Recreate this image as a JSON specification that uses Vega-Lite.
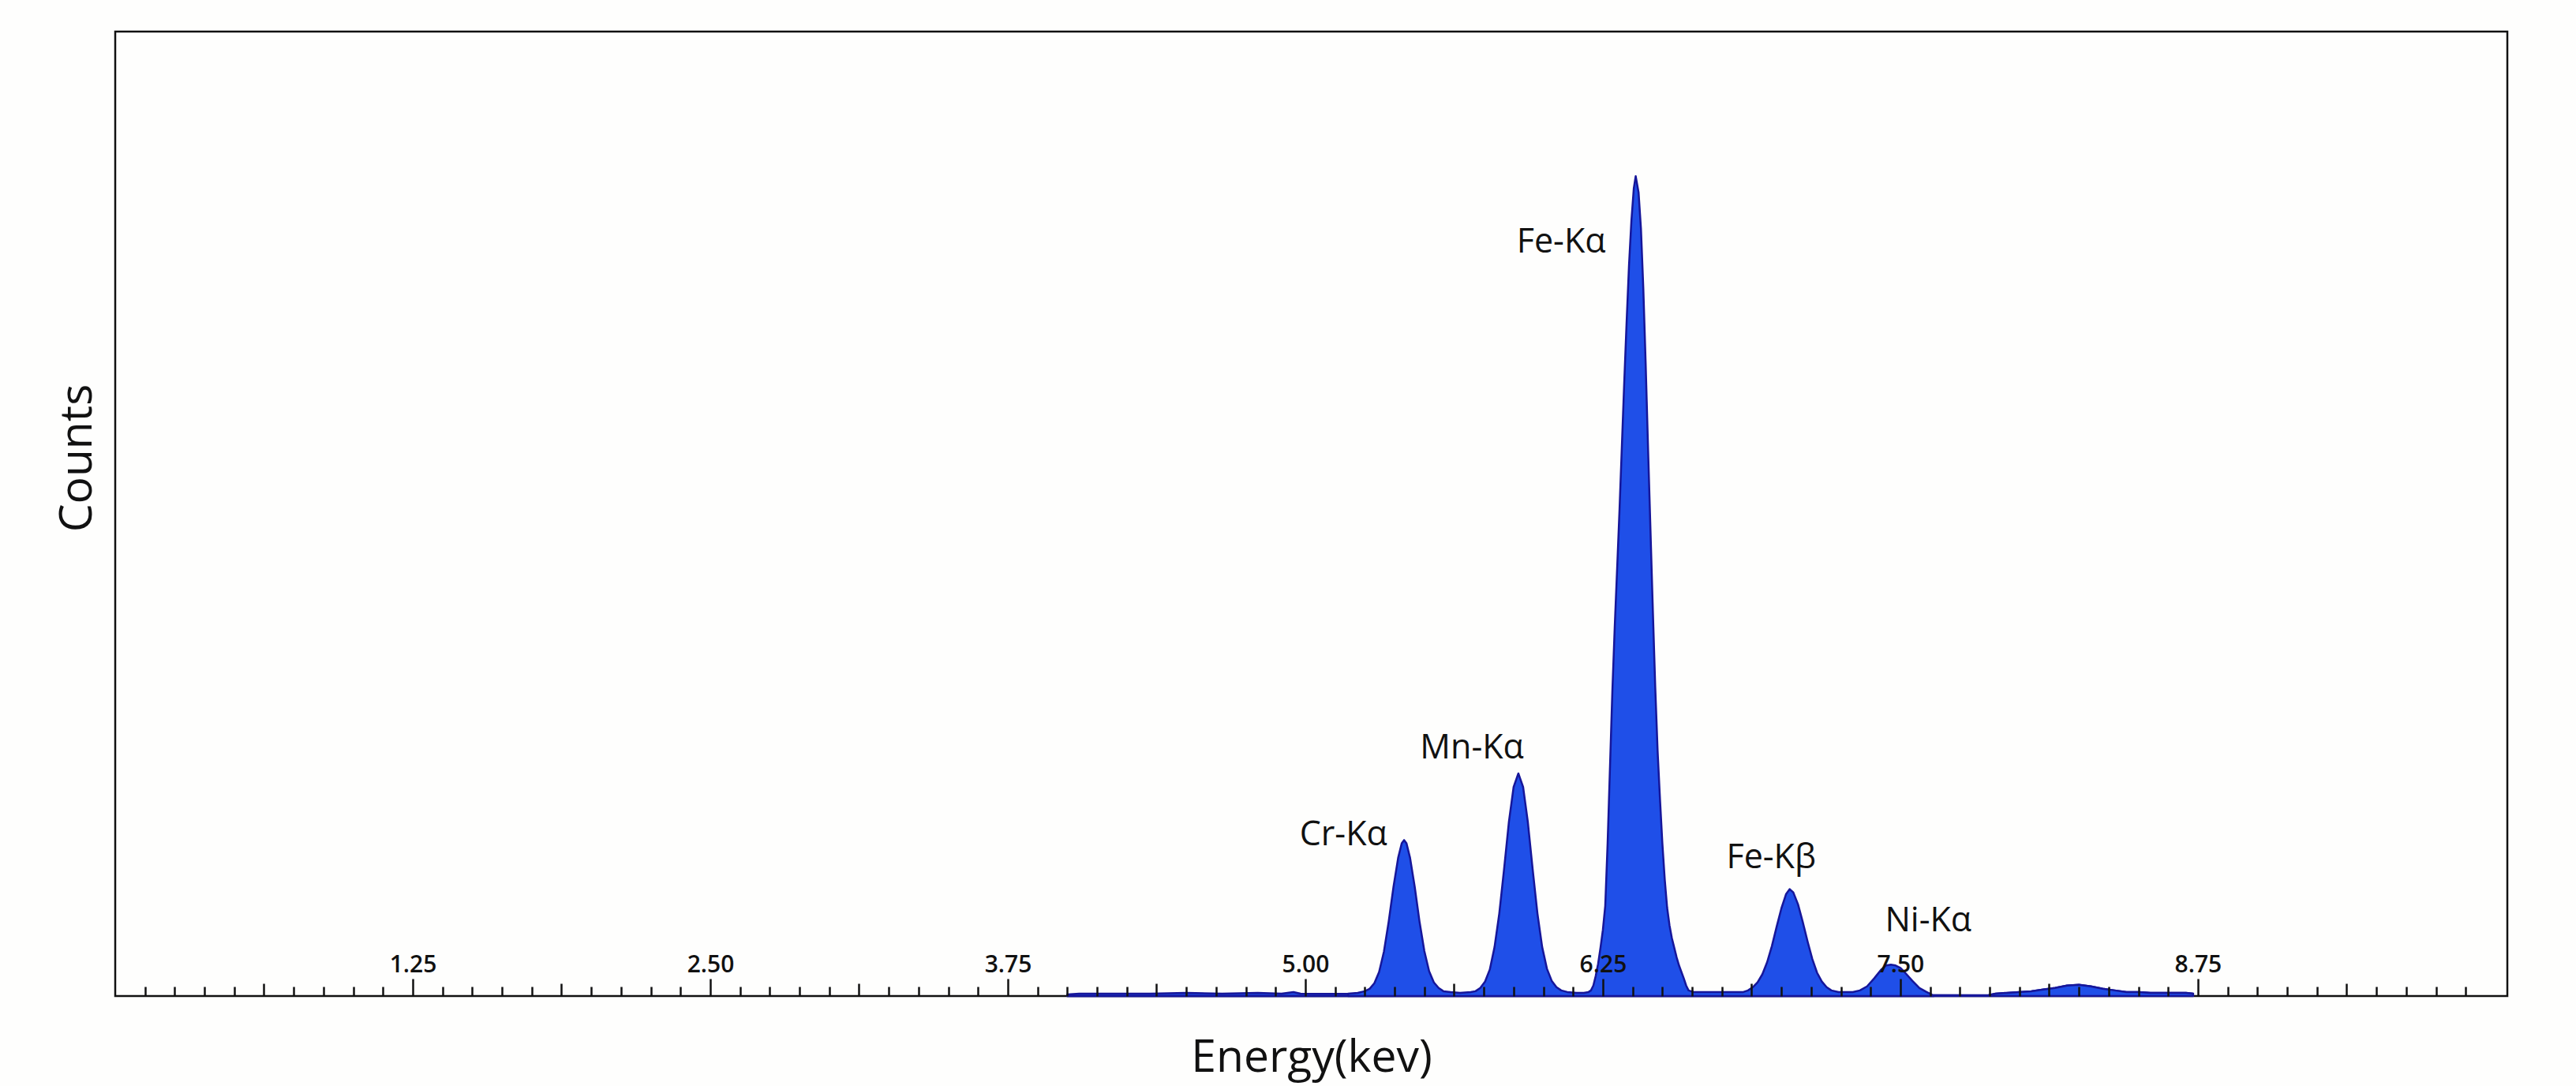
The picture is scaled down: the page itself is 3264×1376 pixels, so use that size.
{
  "$schema": "https://vega.github.io/schema/vega-lite/v6.json",
  "autosize": {"type": "none"},
  "width": 3031,
  "height": 1222,
  "padding": {"left": 146, "top": 40, "right": 87, "bottom": 114},
  "background": "#fefefd",
  "config": {
    "view": {"stroke": "#111111", "strokeWidth": 2.5},
    "font": "Open Sans",
    "axisX": {"offset": 0, "domain": false, "grid": false, "tickColor": "#111111", "tickWidth": 2.5},
    "axisY": {"title": "Counts", "labels": false, "ticks": false, "domain": false, "grid": false, "titleFont": "Open Sans", "titleFontSize": 57, "titleFontWeight": "normal", "titleColor": "#111111", "titleX": -48, "titleY": 540, "titleAngle": -90, "titleAlign": "center", "titleBaseline": "middle"}
  },
  "resolve": {"axis": {"x": "independent"}},
  "datasets": {
    "spectrum": [
      {"e": 4.00, "c": 2, "seg": "a"},
      {"e": 4.05, "c": 3, "seg": "a"},
      {"e": 4.20, "c": 3, "seg": "a"},
      {"e": 4.35, "c": 3, "seg": "a"},
      {"e": 4.50, "c": 4, "seg": "a"},
      {"e": 4.65, "c": 3, "seg": "a"},
      {"e": 4.80, "c": 4, "seg": "a"},
      {"e": 4.90, "c": 3, "seg": "a"},
      {"e": 4.95, "c": 5, "seg": "a"},
      {"e": 4.98, "c": 3, "seg": "a"},
      {"e": 5.18, "c": 3, "seg": "b"},
      {"e": 5.22, "c": 4, "seg": "b"},
      {"e": 5.25, "c": 6, "seg": "b"},
      {"e": 5.27, "c": 9, "seg": "b"},
      {"e": 5.29, "c": 16, "seg": "b"},
      {"e": 5.31, "c": 30, "seg": "b"},
      {"e": 5.33, "c": 55, "seg": "b"},
      {"e": 5.35, "c": 92, "seg": "b"},
      {"e": 5.37, "c": 135, "seg": "b"},
      {"e": 5.39, "c": 172, "seg": "b"},
      {"e": 5.405, "c": 190, "seg": "b"},
      {"e": 5.415, "c": 194, "seg": "b"},
      {"e": 5.425, "c": 190, "seg": "b"},
      {"e": 5.44, "c": 172, "seg": "b"},
      {"e": 5.46, "c": 135, "seg": "b"},
      {"e": 5.48, "c": 92, "seg": "b"},
      {"e": 5.50, "c": 56, "seg": "b"},
      {"e": 5.52, "c": 31, "seg": "b"},
      {"e": 5.54, "c": 17, "seg": "b"},
      {"e": 5.56, "c": 10, "seg": "b"},
      {"e": 5.58, "c": 6, "seg": "b"},
      {"e": 5.61, "c": 5, "seg": "b"},
      {"e": 5.65, "c": 4, "seg": "b"},
      {"e": 5.695, "c": 5, "seg": "b"},
      {"e": 5.715, "c": 6, "seg": "b"},
      {"e": 5.735, "c": 10, "seg": "b"},
      {"e": 5.755, "c": 18, "seg": "b"},
      {"e": 5.775, "c": 33, "seg": "b"},
      {"e": 5.795, "c": 61, "seg": "b"},
      {"e": 5.815, "c": 103, "seg": "b"},
      {"e": 5.835, "c": 158, "seg": "b"},
      {"e": 5.855, "c": 216, "seg": "b"},
      {"e": 5.875, "c": 260, "seg": "b"},
      {"e": 5.895, "c": 277, "seg": "b"},
      {"e": 5.915, "c": 260, "seg": "b"},
      {"e": 5.935, "c": 216, "seg": "b"},
      {"e": 5.955, "c": 158, "seg": "b"},
      {"e": 5.975, "c": 103, "seg": "b"},
      {"e": 5.995, "c": 61, "seg": "b"},
      {"e": 6.015, "c": 34, "seg": "b"},
      {"e": 6.035, "c": 19, "seg": "b"},
      {"e": 6.055, "c": 11, "seg": "b"},
      {"e": 6.075, "c": 7, "seg": "b"},
      {"e": 6.10, "c": 5, "seg": "b"},
      {"e": 6.14, "c": 4, "seg": "b"},
      {"e": 6.17, "c": 4, "seg": "b"},
      {"e": 6.19, "c": 5, "seg": "b"},
      {"e": 6.20, "c": 7, "seg": "b"},
      {"e": 6.21, "c": 13, "seg": "b"},
      {"e": 6.22, "c": 25, "seg": "b"},
      {"e": 6.23, "c": 40, "seg": "b"},
      {"e": 6.24, "c": 60, "seg": "b"},
      {"e": 6.25, "c": 82, "seg": "b"},
      {"e": 6.26, "c": 112, "seg": "b"},
      {"e": 6.27, "c": 190, "seg": "b"},
      {"e": 6.28, "c": 285, "seg": "b"},
      {"e": 6.29, "c": 380, "seg": "b"},
      {"e": 6.30, "c": 460, "seg": "b"},
      {"e": 6.31, "c": 532, "seg": "b"},
      {"e": 6.32, "c": 605, "seg": "b"},
      {"e": 6.33, "c": 685, "seg": "b"},
      {"e": 6.34, "c": 765, "seg": "b"},
      {"e": 6.35, "c": 840, "seg": "b"},
      {"e": 6.36, "c": 910, "seg": "b"},
      {"e": 6.37, "c": 965, "seg": "b"},
      {"e": 6.38, "c": 1005, "seg": "b"},
      {"e": 6.388, "c": 1020, "seg": "b"},
      {"e": 6.40, "c": 1000, "seg": "b"},
      {"e": 6.41, "c": 955, "seg": "b"},
      {"e": 6.42, "c": 880, "seg": "b"},
      {"e": 6.43, "c": 785, "seg": "b"},
      {"e": 6.44, "c": 680, "seg": "b"},
      {"e": 6.45, "c": 580, "seg": "b"},
      {"e": 6.46, "c": 480, "seg": "b"},
      {"e": 6.47, "c": 385, "seg": "b"},
      {"e": 6.48, "c": 305, "seg": "b"},
      {"e": 6.49, "c": 245, "seg": "b"},
      {"e": 6.50, "c": 190, "seg": "b"},
      {"e": 6.51, "c": 145, "seg": "b"},
      {"e": 6.52, "c": 110, "seg": "b"},
      {"e": 6.53, "c": 88, "seg": "b"},
      {"e": 6.54, "c": 72, "seg": "b"},
      {"e": 6.55, "c": 60, "seg": "b"},
      {"e": 6.56, "c": 48, "seg": "b"},
      {"e": 6.57, "c": 38, "seg": "b"},
      {"e": 6.58, "c": 30, "seg": "b"},
      {"e": 6.59, "c": 22, "seg": "b"},
      {"e": 6.60, "c": 13, "seg": "b"},
      {"e": 6.61, "c": 7, "seg": "b"},
      {"e": 6.63, "c": 5, "seg": "b"},
      {"e": 6.70, "c": 5, "seg": "b"},
      {"e": 6.75, "c": 5, "seg": "b"},
      {"e": 6.80, "c": 5, "seg": "b"},
      {"e": 6.84, "c": 5, "seg": "b"},
      {"e": 6.86, "c": 7, "seg": "b"},
      {"e": 6.88, "c": 11, "seg": "b"},
      {"e": 6.90, "c": 17, "seg": "b"},
      {"e": 6.92, "c": 27, "seg": "b"},
      {"e": 6.94, "c": 42, "seg": "b"},
      {"e": 6.96, "c": 62, "seg": "b"},
      {"e": 6.98, "c": 86, "seg": "b"},
      {"e": 7.00, "c": 109, "seg": "b"},
      {"e": 7.02, "c": 127, "seg": "b"},
      {"e": 7.035, "c": 133, "seg": "b"},
      {"e": 7.05, "c": 129, "seg": "b"},
      {"e": 7.07, "c": 114, "seg": "b"},
      {"e": 7.09, "c": 92, "seg": "b"},
      {"e": 7.11, "c": 68, "seg": "b"},
      {"e": 7.13, "c": 46, "seg": "b"},
      {"e": 7.15, "c": 29, "seg": "b"},
      {"e": 7.17, "c": 18, "seg": "b"},
      {"e": 7.19, "c": 11, "seg": "b"},
      {"e": 7.21, "c": 7, "seg": "b"},
      {"e": 7.24, "c": 5, "seg": "b"},
      {"e": 7.27, "c": 5, "seg": "b"},
      {"e": 7.30, "c": 5, "seg": "b"},
      {"e": 7.33, "c": 7, "seg": "b"},
      {"e": 7.36, "c": 12, "seg": "b"},
      {"e": 7.39, "c": 22, "seg": "b"},
      {"e": 7.42, "c": 33, "seg": "b"},
      {"e": 7.44, "c": 38, "seg": "b"},
      {"e": 7.46, "c": 39, "seg": "b"},
      {"e": 7.48, "c": 38, "seg": "b"},
      {"e": 7.50, "c": 35, "seg": "b"},
      {"e": 7.52, "c": 29, "seg": "b"},
      {"e": 7.55, "c": 19, "seg": "b"},
      {"e": 7.58, "c": 10, "seg": "b"},
      {"e": 7.61, "c": 5, "seg": "b"},
      {"e": 7.63, "c": 2, "seg": "b"},
      {"e": 7.64, "c": 0, "seg": "b"},
      {"e": 7.87, "c": 1, "seg": "c"},
      {"e": 7.90, "c": 3, "seg": "c"},
      {"e": 7.95, "c": 4, "seg": "c"},
      {"e": 8.00, "c": 5, "seg": "c"},
      {"e": 8.05, "c": 6, "seg": "c"},
      {"e": 8.10, "c": 8, "seg": "c"},
      {"e": 8.15, "c": 10, "seg": "c"},
      {"e": 8.20, "c": 13, "seg": "c"},
      {"e": 8.25, "c": 14, "seg": "c"},
      {"e": 8.30, "c": 12, "seg": "c"},
      {"e": 8.35, "c": 9, "seg": "c"},
      {"e": 8.40, "c": 7, "seg": "c"},
      {"e": 8.45, "c": 5, "seg": "c"},
      {"e": 8.50, "c": 5, "seg": "c"},
      {"e": 8.55, "c": 4, "seg": "c"},
      {"e": 8.60, "c": 4, "seg": "c"},
      {"e": 8.65, "c": 4, "seg": "c"},
      {"e": 8.70, "c": 4, "seg": "c"},
      {"e": 8.73, "c": 3, "seg": "c"}
    ],
    "labels": [
      {"label": "Cr-Kα", "e": 5.16, "c": 188},
      {"label": "Mn-Kα", "e": 5.70, "c": 296},
      {"label": "Fe-Kα", "e": 6.075, "c": 925},
      {"label": "Fe-Kβ", "e": 6.957, "c": 159},
      {"label": "Ni-Kα", "e": 7.617, "c": 81}
    ]
  },
  "layer": [
    {
      "data": {"name": "spectrum"},
      "transform": [{"filter": "datum.seg !== 'b'"}],
      "mark": {"type": "area", "color": "#1f4fe8", "stroke": "#16169a", "strokeWidth": 2.5, "strokeJoin": "round"},
      "encoding": {
        "x": {
          "field": "e",
          "type": "quantitative",
          "scale": {"domain": [0, 10.05], "nice": false, "zero": false},
          "axis": {
            "orient": "bottom",
            "zindex": 1,
            "values": [0.125, 0.25, 0.375, 0.5, 0.75, 0.875, 1, 1.125, 1.375, 1.5, 1.625, 1.75, 2, 2.125, 2.25, 2.375, 2.625, 2.75, 2.875, 3, 3.25, 3.375, 3.5, 3.625, 3.875, 4, 4.125, 4.25, 4.5, 4.625, 4.75, 4.875, 5.125, 5.25, 5.375, 5.5, 5.75, 5.875, 6, 6.125, 6.375, 6.5, 6.625, 6.75, 7, 7.125, 7.25, 7.375, 7.625, 7.75, 7.875, 8, 8.25, 8.375, 8.5, 8.625, 8.875, 9, 9.125, 9.25, 9.5, 9.625, 9.75, 9.875],
            "tickSize": -12,
            "labels": false,
            "title": null
          }
        },
        "y": {"field": "c", "type": "quantitative", "scale": {"domain": [0, 1200], "nice": false}, "title": "Counts"},
        "detail": {"field": "seg", "type": "nominal"}
      }
    },
    {
      "data": {"name": "spectrum"},
      "transform": [{"filter": "datum.seg === 'b'"}],
      "mark": {"type": "area", "color": "#1f4fe8", "stroke": "#16169a", "strokeWidth": 2.5, "strokeJoin": "round"},
      "encoding": {
        "x": {
          "field": "e",
          "type": "quantitative",
          "axis": {
            "orient": "bottom",
            "zindex": 1,
            "values": [1.25, 2.5, 3.75, 5, 6.25, 7.5, 8.75],
            "tickSize": -22,
            "format": ".2f",
            "labelPadding": -9,
            "labelBaseline": "alphabetic",
            "labelFont": "Open Sans",
            "labelFontSize": 30,
            "labelFontWeight": 600,
            "labelColor": "#111111",
            "labelFlush": false,
            "labelOverlap": false,
            "title": "Energy(kev)",
            "titleFont": "Open Sans",
            "titleFontSize": 57,
            "titleFontWeight": "normal",
            "titleColor": "#111111",
            "titleY": 95,
            "titleBaseline": "alphabetic"
          }
        },
        "y": {"field": "c", "type": "quantitative", "title": "Counts"}
      }
    },
    {
      "data": {"name": "labels"},
      "mark": {"type": "text", "font": "Open Sans", "fontSize": 43, "color": "#111111", "align": "center", "baseline": "alphabetic"},
      "encoding": {
        "x": {
          "field": "e",
          "type": "quantitative",
          "axis": {
            "orient": "bottom",
            "zindex": 1,
            "values": [0.625, 1.875, 3.125, 4.375, 5.625, 6.875, 8.125, 9.375],
            "tickSize": -16,
            "labels": false,
            "title": null
          }
        },
        "y": {"field": "c", "type": "quantitative", "title": "Counts"},
        "text": {"field": "label", "type": "nominal"}
      }
    }
  ]
}
